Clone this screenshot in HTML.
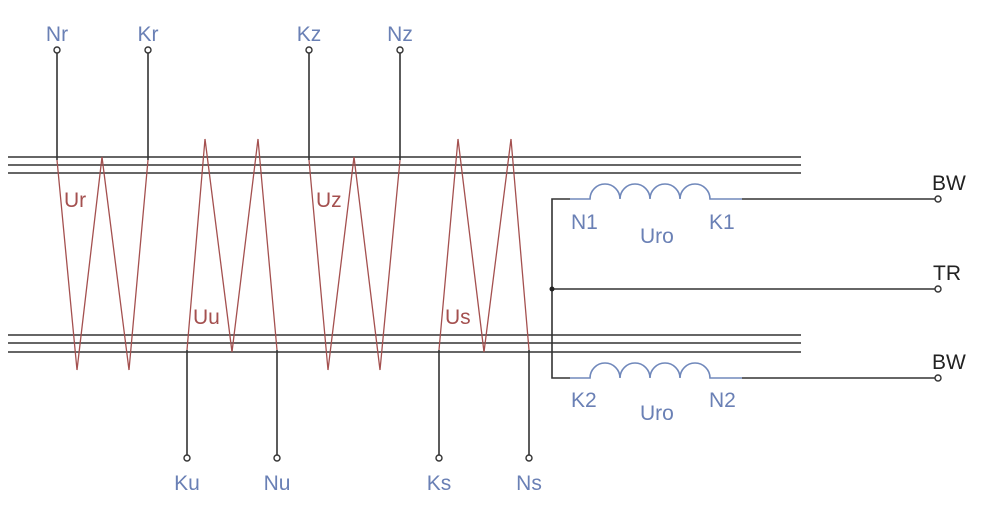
<!DOCTYPE html>
<html><head><meta charset="utf-8"><style>
html,body{margin:0;padding:0;background:#fff;}
svg{display:block;}
text{font-family:"Liberation Sans",sans-serif;font-size:21px;}
.b{fill:#6a80b5;}
.r{fill:#a4504f;}
.k{fill:#222;}
</style></head><body>
<svg width="982" height="512" viewBox="0 0 982 512" xmlns="http://www.w3.org/2000/svg">
<g stroke="#333" stroke-width="1.6" fill="none">
<line x1="8" y1="157" x2="801" y2="157"/>
<line x1="8" y1="165" x2="801" y2="165"/>
<line x1="8" y1="173" x2="801" y2="173"/>
<line x1="8" y1="335" x2="801" y2="335"/>
<line x1="8" y1="343" x2="801" y2="343"/>
<line x1="8" y1="352" x2="801" y2="352"/>
<!-- top terminals -->
<line x1="57" y1="53" x2="57" y2="160"/>
<line x1="148" y1="53" x2="148" y2="160"/>
<line x1="309" y1="53" x2="309" y2="160"/>
<line x1="400" y1="53" x2="400" y2="160"/>
<!-- bottom terminals -->
<line x1="187" y1="350" x2="187" y2="455"/>
<line x1="277" y1="350" x2="277" y2="455"/>
<line x1="439" y1="350" x2="439" y2="455"/>
<line x1="529" y1="350" x2="529" y2="455"/>
<!-- right side -->
<polyline points="570,199 552,199 552,378 570,378"/>
<line x1="552" y1="289" x2="935" y2="289"/>
<line x1="742" y1="199" x2="935" y2="199"/>
<line x1="742" y1="378" x2="935" y2="378"/>
</g>
<g fill="#fff" stroke="#333" stroke-width="1.4">
<circle cx="57" cy="50" r="3"/><circle cx="148" cy="50" r="3"/>
<circle cx="309" cy="50" r="3"/><circle cx="400" cy="50" r="3"/>
<circle cx="187" cy="458" r="3"/><circle cx="277" cy="458" r="3"/>
<circle cx="439" cy="458" r="3"/><circle cx="529" cy="458" r="3"/>
<circle cx="938" cy="199" r="3"/><circle cx="938" cy="289" r="3"/><circle cx="938" cy="378" r="3"/>
</g>
<circle cx="552" cy="289" r="2.5" fill="#222"/>
<g stroke="#a4504f" stroke-width="1.3" fill="none">
<polyline points="57,160 77,370 102,157 129,370 148,160"/>
<polyline points="187,350 205,139 232,352 258,139 277,350"/>
<polyline points="309,160 328,370 354,157 380,370 400,160"/>
<polyline points="439,350 458,139 484,352 511,139 529,350"/>
</g>
<g stroke="#7088bb" stroke-width="1.6" fill="none">
<path d="M570,199 H590 A15,15 0 0 1 620,199 A15,15 0 0 1 650,199 A15,15 0 0 1 680,199 A15,15 0 0 1 710,199 H742"/>
<path d="M570,378 H590 A15,15 0 0 1 620,378 A15,15 0 0 1 650,378 A15,15 0 0 1 680,378 A15,15 0 0 1 710,378 H742"/>
</g>
<text class="b" x="57" y="41" text-anchor="middle">Nr</text>
<text class="b" x="148" y="41" text-anchor="middle">Kr</text>
<text class="b" x="309" y="41" text-anchor="middle">Kz</text>
<text class="b" x="400" y="41" text-anchor="middle">Nz</text>
<text class="b" x="187" y="490" text-anchor="middle">Ku</text>
<text class="b" x="277" y="490" text-anchor="middle">Nu</text>
<text class="b" x="439" y="490" text-anchor="middle">Ks</text>
<text class="b" x="529" y="490" text-anchor="middle">Ns</text>
<text class="r" x="64" y="207">Ur</text>
<text class="r" x="193" y="324">Uu</text>
<text class="r" x="316" y="207">Uz</text>
<text class="r" x="445" y="324">Us</text>
<text class="b" x="571" y="229">N1</text>
<text class="b" x="640" y="243">Uro</text>
<text class="b" x="709" y="229">K1</text>
<text class="b" x="571" y="407">K2</text>
<text class="b" x="640" y="420">Uro</text>
<text class="b" x="709" y="407">N2</text>
<text class="k" x="932" y="190">BW</text>
<text class="k" x="933" y="280">TR</text>
<text class="k" x="932" y="369">BW</text>
</svg>
</body></html>
